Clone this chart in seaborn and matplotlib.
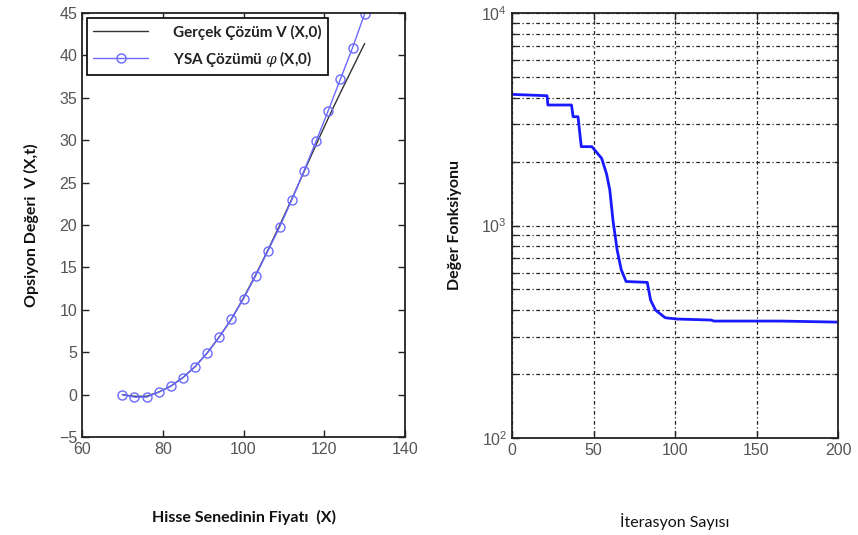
import numpy as np
import pandas as pd
import matplotlib
matplotlib.use("Agg")
import matplotlib.pyplot as plt
import seaborn as sns
from matplotlib.ticker import LogLocator, NullFormatter

# ---- data (left panel) ----
stock_price = [70, 73, 76, 79, 82, 85, 88, 91, 94, 97, 100, 103, 106, 109,
               112, 115, 118, 121, 124, 127, 130]
ann_solution = [0.0, -0.3, -0.3, 0.3, 1.0, 2.0, 3.3, 4.9, 6.8, 8.9, 11.3, 14.0,
                16.9, 19.8, 23.0, 26.4, 29.9, 33.5, 37.2, 40.9, 44.9]
exact_solution = [0.0, -0.2, -0.2, 0.3, 1.0, 2.0, 3.3, 4.9, 6.8, 8.9, 11.4, 14.1,
                  17.0, 20.0, 23.1, 26.3, 29.5, 32.6, 35.6, 38.5, 41.4]

# ---- data (right panel) ----
iterations = [0, 21.5, 22, 36.5, 37.5, 40.5, 42.5, 49, 55, 58, 60, 62, 64.5, 67,
              70, 83, 85, 88, 94, 101, 122, 124, 165, 200]
cost_values = [4140, 4080, 3690, 3690, 3250, 3250, 2350, 2350, 2070, 1750, 1470,
               1050, 767, 620, 545, 540, 446, 400, 368, 363, 359, 355, 355, 351]

left_df = pd.DataFrame({"X": stock_price, "ann": ann_solution, "exact": exact_solution})
right_df = pd.DataFrame({"it": iterations, "J": cost_values})

sns.set_style("ticks")
plt.rcParams["font.family"] = ["Liberation Sans", "DejaVu Sans"]
plt.rcParams["mathtext.fontset"] = "dejavuserif"

fig = plt.figure(figsize=(8.58, 5.35), dpi=100)
ax1 = fig.add_axes([82/858, 1-437/535, (405-82)/858, (437-13)/535])
ax2 = fig.add_axes([512/858, 1-438/535, (838-512)/858, (438-13)/535])

tick_col = "#555555"
label_font = dict(family=["Lato", "DejaVu Sans"], fontweight="bold", fontsize=11.5, color="#111111")

# left panel
sns.lineplot(data=left_df, x="X", y="exact", ax=ax1, color="#333333", lw=1.0,
             label="Gerçek Çözüm V (X,0)")
sns.lineplot(data=left_df, x="X", y="ann", ax=ax1, color="#6a6aff", lw=1.0,
             marker="o", markersize=6.5, markerfacecolor="none", markeredgecolor="#6a6aff",
             markeredgewidth=1.0, label=r"YSA Çözümü $\mathregular{\varphi}$ (X,0)")
ax1.set_xlim(60, 140)
ax1.set_ylim(-5, 45)
ax1.set_xticks([60, 80, 100, 120, 140])
ax1.set_yticks(list(range(-5, 50, 5)))
ax1.set_xlabel("Hisse Senedinin Fiyatı  (X)", labelpad=38, **label_font)
ax1.set_ylabel("Opsiyon Değeri  V (X,t)", labelpad=14, **label_font)
leg = ax1.legend(loc="upper left", frameon=True, fancybox=False, framealpha=1,
                 edgecolor="black", borderaxespad=0.35, handlelength=3.6,
                 handletextpad=1.6, labelspacing=0.6,
                 prop=dict(family=["Lato", "DejaVu Sans"], weight="bold", size=11))
leg.get_frame().set_linewidth(1.2)
for t in leg.get_texts():
    t.set_color("#222222")
leg.get_texts()[1].set_text(r"YSA Çözümü $\varphi$ (X,0)")

# right panel
sns.lineplot(data=right_df, x="it", y="J", ax=ax2, color="#1a1aff", lw=2.0)
ax2.set_yscale("log")
ax2.set_xlim(0, 200)
ax2.set_ylim(100, 10000)
ax2.set_xticks([0, 50, 100, 150, 200])
ax2.yaxis.set_major_locator(LogLocator(base=10, numticks=5))
ax2.yaxis.set_minor_locator(LogLocator(base=10, subs=np.arange(2, 10), numticks=20))
ax2.yaxis.set_minor_formatter(NullFormatter())
grid_ls = (0, (1, 2, 3, 2))
ax2.grid(True, which="major", axis="both", color="#222222", linestyle=grid_ls, lw=0.9)
ax2.grid(True, which="minor", axis="y", color="#222222", linestyle=grid_ls, lw=0.9)
ax2.set_xlabel("İterasyon Sayısı", labelpad=40, family=["Lato", "DejaVu Sans"],
               fontsize=11.5, color="#111111")
ax2.set_ylabel("Değer Fonksiyonu", labelpad=14, **label_font)

for ax in (ax1, ax2):
    for s in ax.spines.values():
        s.set_visible(True)
        s.set_color("#222222")
        s.set_linewidth(1.3)
    ax.tick_params(which="both", direction="in", top=True, right=True,
                   labelsize=11.5, labelcolor=tick_col, length=5, width=1, color="#222222")
    ax.tick_params(which="minor", length=3)
    ax.set_facecolor("white")

fig.savefig("out.png", dpi=100, facecolor="white")
